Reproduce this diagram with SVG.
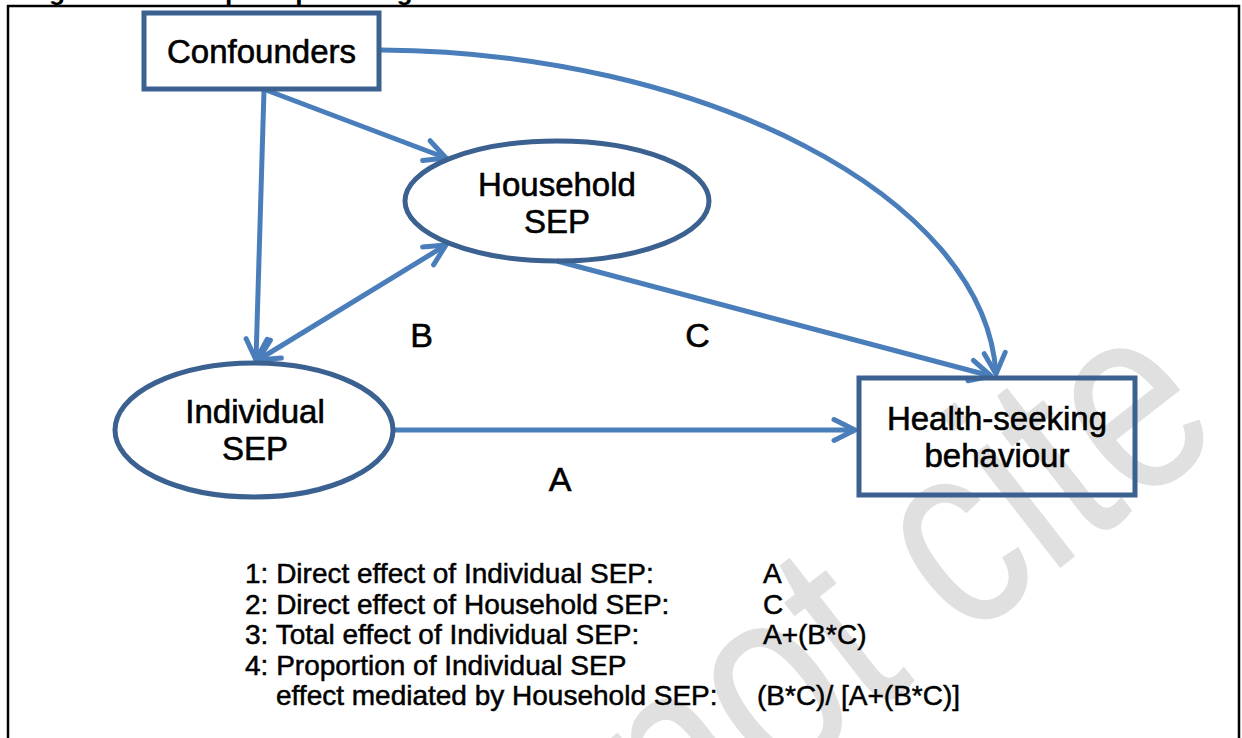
<svg xmlns="http://www.w3.org/2000/svg" width="1242" height="738" viewBox="0 0 1242 738">
  <style>
    text { font-family: "Liberation Sans", Arial, sans-serif; fill: #000; }
    .node { fill: none; stroke: #3B6190; stroke-width: 5; }
    .lbl { font-size: 33px; text-anchor: middle; stroke: #000; stroke-width: 0.6px; }
    .edge { fill: none; stroke: #4A7EBB; stroke-width: 5; }
    .path-lbl { font-size: 34px; text-anchor: middle; stroke: #000; stroke-width: 0.6px; }
    .leg { font-size: 28px; stroke: #000; stroke-width: 0.5px; }
    .wm { font-size: 270px; fill: #e0e0e0; }
  </style>
  <defs>
    <marker id="ah" viewBox="-26 -16 30 32" refX="0" refY="0" markerWidth="30" markerHeight="32" markerUnits="userSpaceOnUse" orient="auto-start-reverse">
      <path d="M-21,-10.5 L0,0 L-21,10.5" fill="none" stroke="#4A7EBB" stroke-width="5" stroke-linecap="round" stroke-linejoin="round"/>
    </marker>
  </defs>
  <rect width="1242" height="738" fill="#ffffff"/>

  <!-- watermark -->
  <text class="wm" transform="translate(415,1072) rotate(-38) scale(0.8,1)">Do not cite</text>

  <!-- clipped caption and frame -->
  <text x="25.5" y="-0.5" font-size="26.4" font-weight="bold">Figure 1: Conceptual path diagram of the structural model</text>
  <path d="M8,738 V6 H1239 V738" fill="none" stroke="#000" stroke-width="2.5"/>

  <g id="connectors">
    <path class="edge" d="M264,90 L256,360" marker-end="url(#ah)"/>
    <path class="edge" d="M266,90 L446,158" marker-end="url(#ah)"/>
    <path class="edge" d="M258,360 L446,245" marker-start="url(#ah)" marker-end="url(#ah)"/>
    <path class="edge" d="M557,261 L991,376" marker-end="url(#ah)"/>
    <path class="edge" d="M381,50 C700,52 985,195 996,374" marker-end="url(#ah)"/>
    <path class="edge" d="M393,430 L855,430" marker-end="url(#ah)"/>
  </g>

  <g id="confounders">
    <rect class="node" x="144" y="13" width="235" height="76"/>
    <text class="lbl" x="261.5" y="63" font-size="33.5">Confounders</text>
  </g>
  <g id="household-sep">
    <ellipse class="node" cx="557" cy="201" rx="152" ry="60"/>
    <text class="lbl" x="557" y="196">Household</text>
    <text class="lbl" x="557" y="233">SEP</text>
  </g>
  <g id="individual-sep">
    <ellipse class="node" cx="254" cy="430" rx="139" ry="67"/>
    <text class="lbl" x="255" y="423">Individual</text>
    <text class="lbl" x="255" y="460">SEP</text>
  </g>
  <g id="health-seeking">
    <rect class="node" x="859" y="378" width="276" height="117"/>
    <text class="lbl" x="997" y="430">Health-seeking</text>
    <text class="lbl" x="997" y="467">behaviour</text>
  </g>

  <g id="path-labels">
    <text class="path-lbl" x="421.5" y="347">B</text>
    <text class="path-lbl" x="697.5" y="347">C</text>
    <text class="path-lbl" x="560" y="491">A</text>
  </g>

  <g id="legend">
    <text class="leg" x="245" y="583">1: Direct effect of Individual SEP:</text>
    <text class="leg" x="763" y="583">A</text>
    <text class="leg" x="245" y="613.5">2: Direct effect of Household SEP:</text>
    <text class="leg" x="763" y="613.5">C</text>
    <text class="leg" x="245" y="644">3: Total effect of Individual SEP:</text>
    <text class="leg" x="763" y="644">A+(B*C)</text>
    <text class="leg" x="245" y="674.5">4: Proportion of Individual SEP</text>
    <text class="leg" x="276" y="705">effect mediated by Household SEP:</text>
    <text class="leg" x="757" y="705">(B*C)/ [A+(B*C)]</text>
  </g>
</svg>
